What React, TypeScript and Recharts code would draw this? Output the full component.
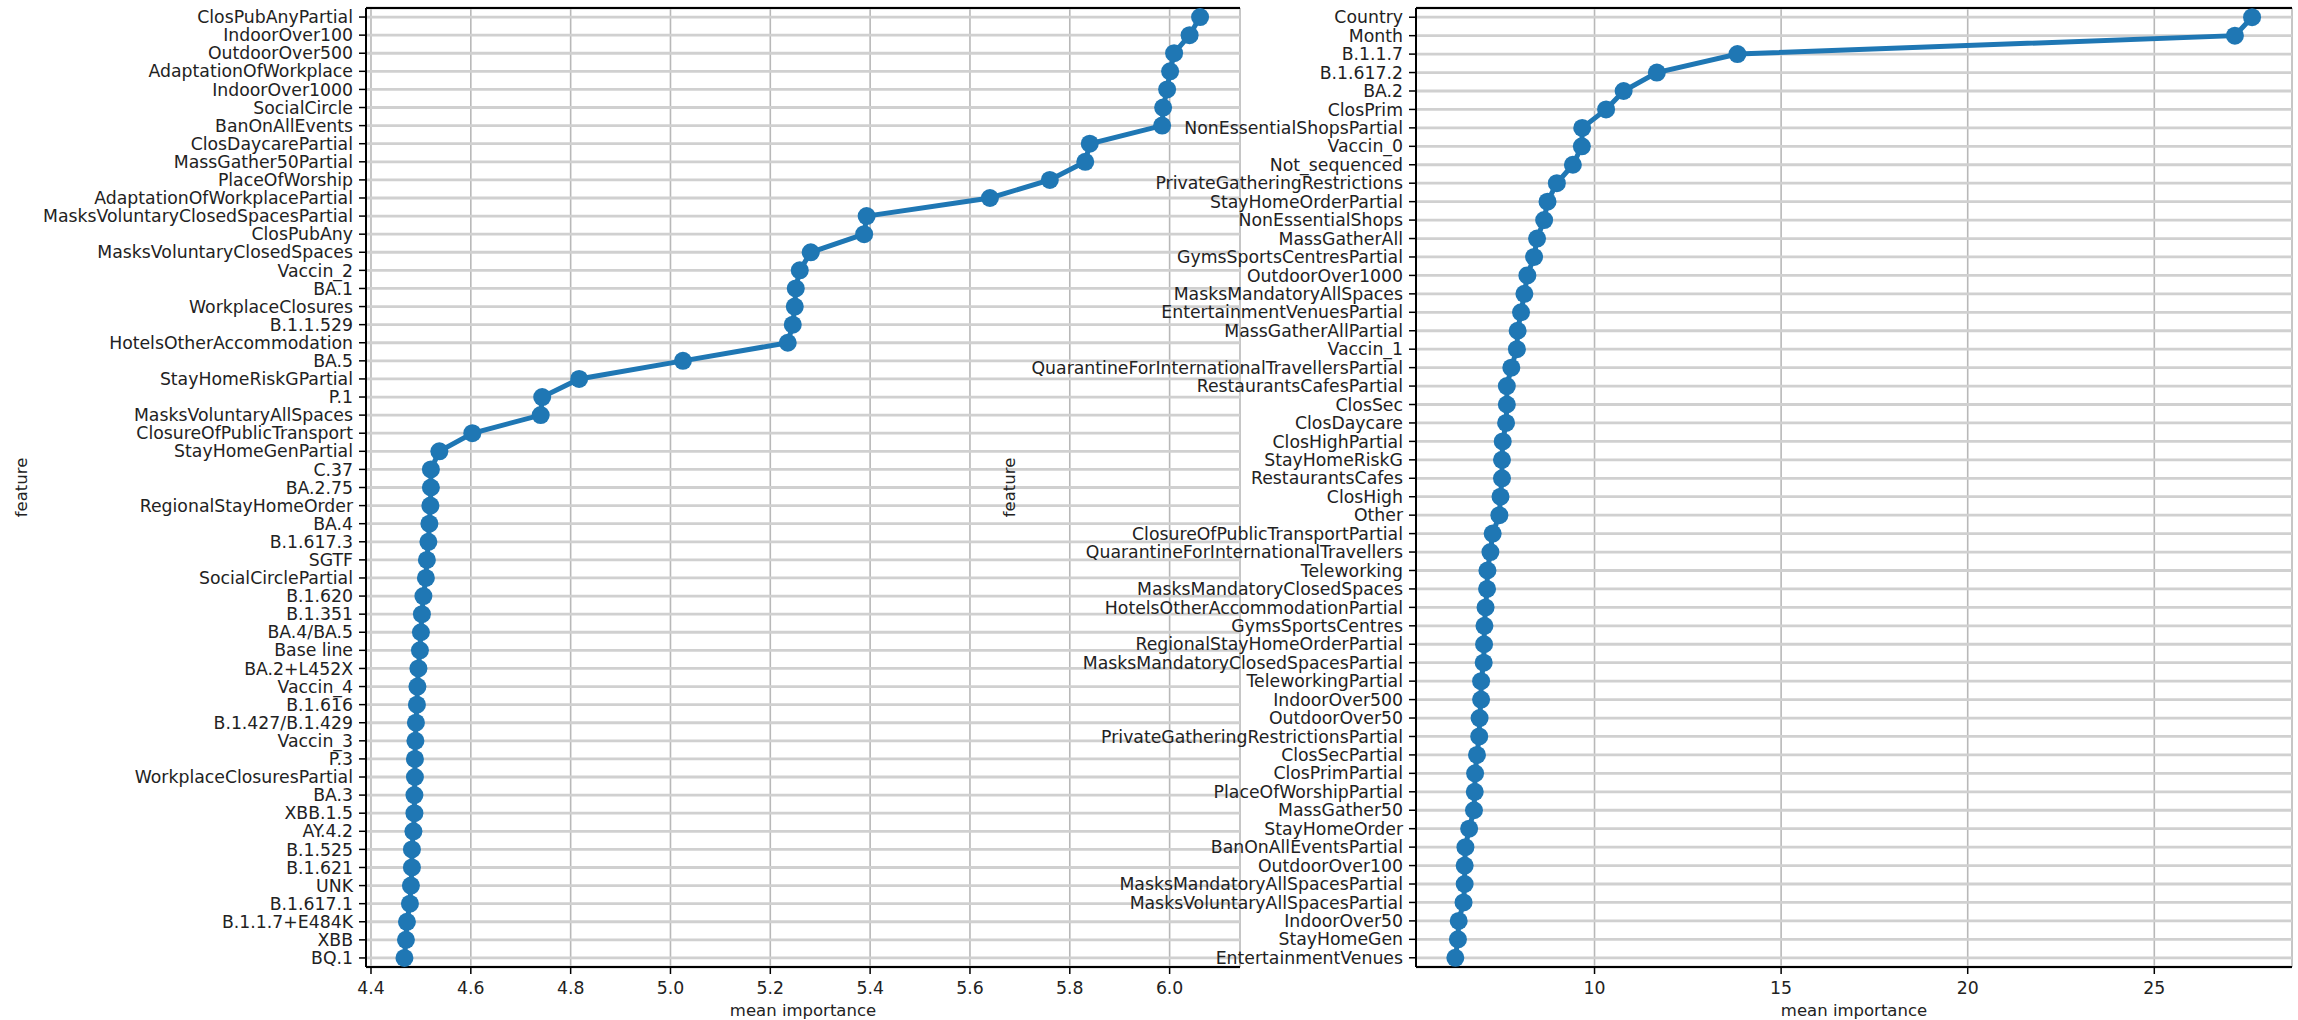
import { LineChart, Line, XAxis, YAxis, CartesianGrid, Label } from 'recharts'

const LEFT_FEATURES = [
  'ClosPubAnyPartial', 'IndoorOver100', 'OutdoorOver500', 'AdaptationOfWorkplace', 'IndoorOver1000',
  'SocialCircle', 'BanOnAllEvents', 'ClosDaycarePartial', 'MassGather50Partial', 'PlaceOfWorship',
  'AdaptationOfWorkplacePartial', 'MasksVoluntaryClosedSpacesPartial', 'ClosPubAny', 'MasksVoluntaryClosedSpaces',
  'Vaccin_2', 'BA.1', 'WorkplaceClosures', 'B.1.1.529', 'HotelsOtherAccommodation', 'BA.5',
  'StayHomeRiskGPartial', 'P.1', 'MasksVoluntaryAllSpaces', 'ClosureOfPublicTransport', 'StayHomeGenPartial',
  'C.37', 'BA.2.75', 'RegionalStayHomeOrder', 'BA.4', 'B.1.617.3', 'SGTF', 'SocialCirclePartial',
  'B.1.620', 'B.1.351', 'BA.4/BA.5', 'Base line', 'BA.2+L452X', 'Vaccin_4', 'B.1.616', 'B.1.427/B.1.429',
  'Vaccin_3', 'P.3', 'WorkplaceClosuresPartial', 'BA.3', 'XBB.1.5', 'AY.4.2', 'B.1.525', 'B.1.621',
  'UNK', 'B.1.617.1', 'B.1.1.7+E484K', 'XBB', 'BQ.1',
]

const LEFT_IMPORTANCE = [
  6.061, 6.04, 6.009, 6.001, 5.995, 5.987, 5.985, 5.84, 5.831, 5.76,
  5.64, 5.393, 5.388, 5.281, 5.259, 5.251, 5.249, 5.245, 5.235, 5.025,
  4.817, 4.743, 4.74, 4.603, 4.537, 4.52, 4.52, 4.519, 4.517, 4.515,
  4.512, 4.51, 4.505, 4.502, 4.5, 4.498, 4.495, 4.493, 4.492, 4.49,
  4.489, 4.488, 4.488, 4.487, 4.487, 4.485, 4.482, 4.482, 4.48, 4.478,
  4.472, 4.47, 4.467,
]

const RIGHT_FEATURES = [
  'Country', 'Month', 'B.1.1.7', 'B.1.617.2', 'BA.2', 'ClosPrim', 'NonEssentialShopsPartial', 'Vaccin_0',
  'Not_sequenced', 'PrivateGatheringRestrictions', 'StayHomeOrderPartial', 'NonEssentialShops', 'MassGatherAll',
  'GymsSportsCentresPartial', 'OutdoorOver1000', 'MasksMandatoryAllSpaces', 'EntertainmentVenuesPartial',
  'MassGatherAllPartial', 'Vaccin_1', 'QuarantineForInternationalTravellersPartial', 'RestaurantsCafesPartial',
  'ClosSec', 'ClosDaycare', 'ClosHighPartial', 'StayHomeRiskG', 'RestaurantsCafes', 'ClosHigh', 'Other',
  'ClosureOfPublicTransportPartial', 'QuarantineForInternationalTravellers', 'Teleworking',
  'MasksMandatoryClosedSpaces', 'HotelsOtherAccommodationPartial', 'GymsSportsCentres',
  'RegionalStayHomeOrderPartial', 'MasksMandatoryClosedSpacesPartial', 'TeleworkingPartial', 'IndoorOver500',
  'OutdoorOver50', 'PrivateGatheringRestrictionsPartial', 'ClosSecPartial', 'ClosPrimPartial',
  'PlaceOfWorshipPartial', 'MassGather50', 'StayHomeOrder', 'BanOnAllEventsPartial', 'OutdoorOver100',
  'MasksMandatoryAllSpacesPartial', 'MasksVoluntaryAllSpacesPartial', 'IndoorOver50', 'StayHomeGen',
  'EntertainmentVenues',
]

const RIGHT_IMPORTANCE = [
  27.62, 27.16, 13.83, 11.67, 10.78, 10.31, 9.67, 9.66, 9.42, 8.99,
  8.74, 8.65, 8.46, 8.38, 8.2, 8.12, 8.03, 7.94, 7.92, 7.77,
  7.65, 7.65, 7.63, 7.54, 7.52, 7.52, 7.48, 7.45, 7.27, 7.21,
  7.13, 7.12, 7.08, 7.05, 7.04, 7.03, 6.96, 6.96, 6.92, 6.91,
  6.85, 6.8, 6.79, 6.77, 6.64, 6.54, 6.52, 6.52, 6.49, 6.36,
  6.34, 6.27,
]

const LEFT_TICKS = [4.4, 4.6, 4.8, 5.0, 5.2, 5.4, 5.6, 5.8, 6.0]
const RIGHT_TICKS = [10, 15, 20, 25]

const BLUE = '#1f77b4'
const FONT = '"DejaVu Sans", sans-serif'
const TEXT = '#222'

interface PanelProps {
  features: string[]
  values: number[]
  ticks: number[]
  domain: [number, number]
  digits: number
  left: number
  width: number
  yAxisWidth: number
  marginRight: number
  titleX: number
}

function Panel({ features, values, ticks, domain, digits, left, width, yAxisWidth, marginRight, titleX }: PanelProps) {
  const data = features.map((feature, i) => ({ feature, value: values[i] }))
  const tickStyle = { fontSize: 17.3, fill: TEXT, fontFamily: FONT }
  // half a row of padding above the first and below the last category
  const rowPad = (967 - 8) / features.length / 2

  return (
    <div style={{ position: 'absolute', left, top: 0 }}>
      <LineChart
        layout="vertical"
        width={width}
        height={1020}
        data={data}
        margin={{ top: 7, right: marginRight, bottom: 0, left: 0 }}
        style={{ overflow: 'visible' }}
      >
        <CartesianGrid horizontal={false} stroke="#b8b8b8" strokeWidth={1.6} />
        <CartesianGrid vertical={false} stroke="#d0d0d0" strokeWidth={2.8} />
        <XAxis
          type="number"
          dataKey="value"
          domain={domain}
          ticks={ticks}
          allowDataOverflow
          tickFormatter={(v: number) => v.toFixed(digits)}
          height={53}
          tick={tickStyle}
          tickSize={7}
          tickMargin={8}
          axisLine={{ stroke: '#000', strokeWidth: 2 }}
          tickLine={{ stroke: '#000', strokeWidth: 1.5 }}
        >
          <Label
            content={({ viewBox }: any) => (
              <text
                x={viewBox.x + viewBox.width / 2}
                y={1016}
                textAnchor="middle"
                fontSize={16.5}
                fill={TEXT}
                fontFamily={FONT}
              >
                mean importance
              </text>
            )}
          />
        </XAxis>
        <XAxis
          xAxisId="top"
          orientation="top"
          type="number"
          domain={domain}
          allowDataOverflow
          height={1}
          tick={false}
          tickLine={false}
          axisLine={{ stroke: '#000', strokeWidth: 2 }}
        />
        <YAxis
          type="category"
          dataKey="feature"
          width={yAxisWidth}
          interval={0}
          padding={{ top: rowPad, bottom: rowPad }}
          tick={tickStyle}
          tickSize={7}
          tickMargin={6}
          axisLine={{ stroke: '#000', strokeWidth: 2 }}
          tickLine={{ stroke: '#000', strokeWidth: 1.5 }}
        >
          <Label
            content={({ viewBox }: any) => (
              <text
                x={titleX}
                y={viewBox.y + viewBox.height / 2}
                transform={`rotate(-90, ${titleX}, ${viewBox.y + viewBox.height / 2})`}
                textAnchor="middle"
                dominantBaseline="central"
                fontSize={16.5}
                fill={TEXT}
                fontFamily={FONT}
              >
                feature
              </text>
            )}
          />
        </YAxis>
        <YAxis
          yAxisId="right"
          orientation="right"
          type="category"
          dataKey="feature"
          width={0}
          tick={false}
          tickLine={false}
          axisLine={{ stroke: '#000', strokeWidth: 2 }}
        />
        <Line
          dataKey="value"
          stroke={BLUE}
          strokeWidth={5}
          dot={{ r: 9, fill: BLUE, stroke: 'none' }}
          activeDot={false}
          isAnimationActive={false}
        />
      </LineChart>
    </div>
  )
}

export default function App() {
  return (
    <div style={{ position: 'absolute', left: 0, top: 0, width: 2298, height: 1020, background: '#fff', overflow: 'hidden' }}>
      <Panel
        features={LEFT_FEATURES}
        values={LEFT_IMPORTANCE}
        ticks={LEFT_TICKS}
        domain={[4.39, 6.141]}
        digits={1}
        left={0}
        width={1250}
        yAxisWidth={366}
        marginRight={10}
        titleX={21}
      />
      <Panel
        features={RIGHT_FEATURES}
        values={RIGHT_IMPORTANCE}
        ticks={RIGHT_TICKS}
        domain={[5.216, 28.69]}
        digits={0}
        left={990}
        width={1308}
        yAxisWidth={426}
        marginRight={6}
        titleX={19}
      />
    </div>
  )
}
